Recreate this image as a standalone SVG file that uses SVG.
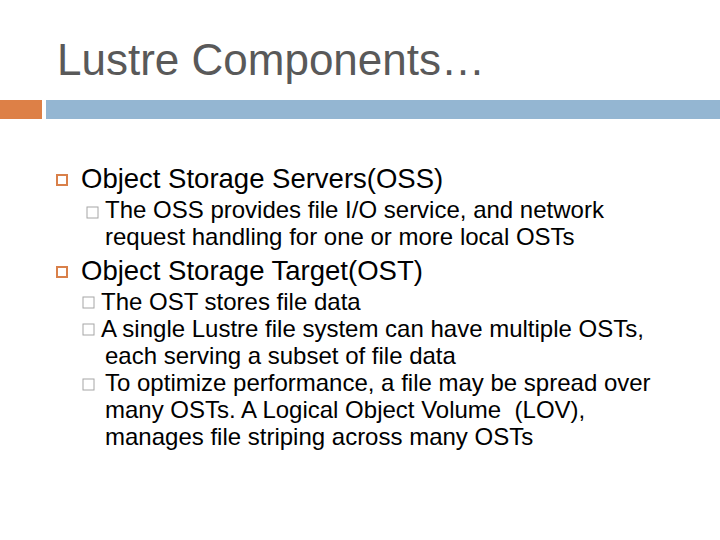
<svg xmlns="http://www.w3.org/2000/svg" width="720" height="540" viewBox="0 0 720 540">
<style>
text{font-family:"Liberation Sans",Arial,sans-serif;fill:#000}
.t{font-size:44px;fill:#595959}
.l1{font-size:27.5px}
.l2{font-size:24px}
.b1{fill:none;stroke:#d9804a;stroke-width:2}
.b2{fill:none;stroke:#a6a6a6;stroke-width:1}
</style>
<rect width="720" height="540" fill="#fff"/>
<text class="t" x="57" y="75">Lustre Components…</text>
<rect x="0" y="100" width="42" height="19" fill="#dd8047"/>
<rect x="46" y="100" width="674" height="19" fill="#94b6d2"/>
<rect class="b1" x="57" y="175" width="10" height="10"/>
<text class="l1" x="81" y="188">Object Storage Servers(OSS)</text>
<rect class="b2" x="87" y="207" width="11" height="11"/>
<text class="l2" x="105" y="218">The OSS provides file I/O service, and network</text>
<text class="l2" x="105" y="245">request handling for one or more local OSTs</text>
<rect class="b1" x="57" y="267" width="10" height="10"/>
<text class="l1" x="81" y="280">Object Storage Target(OST)</text>
<rect class="b2" x="83" y="297" width="11" height="11"/>
<text class="l2" x="101" y="310">The OST stores file data</text>
<rect class="b2" x="83" y="324" width="11" height="11"/>
<text class="l2" x="101" y="337">A single Lustre file system can have multiple OSTs,</text>
<text class="l2" x="105" y="364">each serving a subset of file data</text>
<rect class="b2" x="83" y="379" width="11" height="11"/>
<text class="l2" x="105" y="391">To optimize performance, a file may be spread over</text>
<text class="l2" x="105" y="418" xml:space="preserve">many OSTs. A Logical Object Volume  (LOV),</text>
<text class="l2" x="105" y="445">manages file striping across many OSTs</text>
</svg>
